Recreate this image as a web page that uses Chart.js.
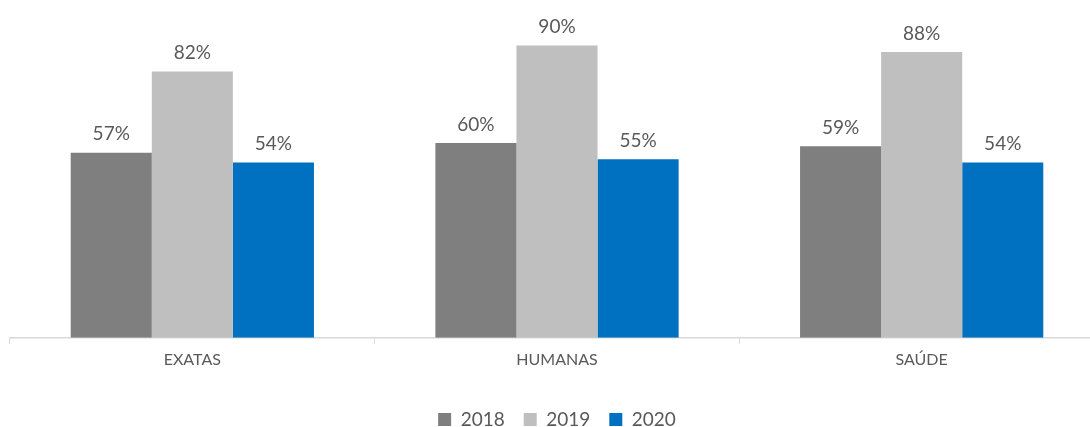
<!DOCTYPE html>
<html>
<head>
<meta charset="utf-8">
<script src="https://cdn.jsdelivr.net/npm/chart.js@4"></script>
<style>
  html, body { margin: 0; padding: 0; background: #fff; overflow: hidden; }
  .wrap { width: 1114px; height: 427px; }
</style>
</head>
<body>
<div class="wrap"><canvas id="chart"></canvas></div>
<script>
const categories = ['EXATAS', 'HUMANAS', 'SAÚDE'];
const seriesNames = ['2018', '2019', '2020'];
const values2018 = [57, 60, 59];
const values2019 = [82, 90, 88];
const values2020 = [54, 55, 54];
const colors = ['#7f7f7f', '#bfbfbf', '#0070c0'];

const TEXT = '#595959';
const FONT = 'Lato, "Open Sans", sans-serif';

// draws the "57%" labels above each bar
const barLabels = {
    id: 'barLabels',
    afterDatasetsDraw(chart) {
        const ctx = chart.ctx;
        ctx.save();
        ctx.fillStyle = TEXT;
        ctx.font = '19px ' + FONT;
        ctx.textAlign = 'center';
        ctx.textBaseline = 'bottom';
        chart.data.datasets.forEach((ds, i) => {
            chart.getDatasetMeta(i).data.forEach((bar, j) => {
                ctx.fillText(ds.data[j] + '%', bar.x, bar.y - 9);
            });
        });
        ctx.restore();
    },
};

new Chart(document.getElementById('chart'), {
    type: 'bar',
    data: {
        labels: categories,
        datasets: [values2018, values2019, values2020].map((data, i) => ({
            label: seriesNames[i],
            data: data,
            backgroundColor: colors[i],
            borderWidth: 0,
            barPercentage: 1,
            categoryPercentage: 0.667,
        })),
    },
    options: {
        responsive: true,
        maintainAspectRatio: false,
        animation: false,
        layout: {
            // negative bottom pushes the legend a bit lower
            padding: { top: 13, left: 10, right: 10, bottom: -12 },
        },
        plugins: {
            legend: {
                position: 'bottom',
                labels: {
                    color: TEXT,
                    font: { family: FONT, size: 19 },
                    boxWidth: 13,
                    boxHeight: 13,
                    padding: 19,
                },
            },
            tooltip: { enabled: false },
        },
        scales: {
            x: {
                afterFit(scale) { scale.height += 16; },
                grid: {
                    offset: true,
                    drawOnChartArea: false,
                    drawTicks: true,
                    tickLength: 6,
                    color: '#d9d9d9',
                },
                border: { color: '#d9d9d9', width: 1.5 },
                ticks: {
                    color: TEXT,
                    font: { family: FONT, size: 16 },
                    padding: 6,
                },
            },
            y: {
                display: false,
                min: 0,
                max: 100,
            },
        },
    },
    plugins: [barLabels],
});
</script>
</body>
</html>
